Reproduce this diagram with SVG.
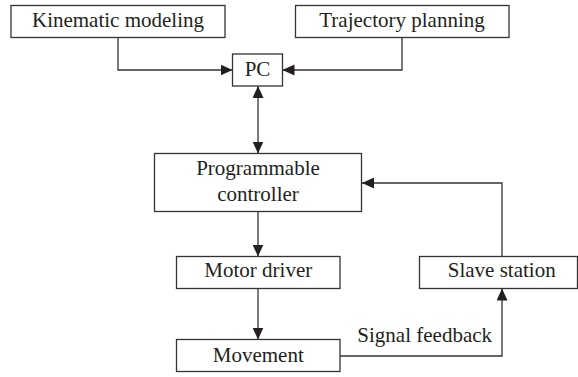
<svg xmlns="http://www.w3.org/2000/svg" width="578" height="377" viewBox="0 0 578 377">
<style>
.box{fill:#fff;stroke:#333;stroke-width:1.3}
.lbl{font-family:'Liberation Serif','DejaVu Serif',serif;font-size:21px;fill:#231f20;text-anchor:middle}
.con{fill:none;stroke:#333;stroke-width:1.3}
</style>
<defs>
<marker id="ah" markerUnits="userSpaceOnUse" markerWidth="13" markerHeight="12" refX="12" refY="5.5" orient="auto-start-reverse">
<path d="M0,0 L12,5.5 L0,11 z" fill="#231f20"/>
</marker>
</defs>
<rect width="578" height="377" fill="#fff"/>
<g id="connectors">
<path class="con" d="M118,38 V70 H232.5" marker-end="url(#ah)"/>
<path class="con" d="M402,38 V70 H282.5" marker-end="url(#ah)"/>
<path class="con" d="M258,86 V153.5" marker-start="url(#ah)" marker-end="url(#ah)"/>
<path class="con" d="M258,211.5 V256.5" marker-end="url(#ah)"/>
<path class="con" d="M258,288.5 V339.5" marker-end="url(#ah)"/>
<path class="con" d="M340,356 H502 V288.5" marker-end="url(#ah)"/>
<path class="con" d="M502,256.5 V183 H362" marker-end="url(#ah)"/>
<text class="lbl" x="424.7" y="341.7" font-family="Liberation Serif, serif">Signal feedback</text>
</g>
<g id="kinematic">
<rect class="box" x="11" y="5.5" width="214" height="32"/>
<text class="lbl" x="118" y="27" font-family="Liberation Serif, serif">Kinematic modeling</text>
</g>
<g id="trajectory">
<rect class="box" x="295.5" y="5.5" width="213.5" height="32"/>
<text class="lbl" x="402" y="27" font-family="Liberation Serif, serif">Trajectory planning</text>
</g>
<g id="pc">
<rect class="box" x="232.5" y="54" width="50" height="32"/>
<text class="lbl" x="257.5" y="76" font-family="Liberation Serif, serif">PC</text>
</g>
<g id="controller">
<rect class="box" x="154.5" y="153.5" width="207" height="58"/>
<text class="lbl" x="258" y="175" font-family="Liberation Serif, serif">Programmable</text>
<text class="lbl" x="258" y="200.5" font-family="Liberation Serif, serif">controller</text>
</g>
<g id="motor">
<rect class="box" x="176.5" y="256.5" width="163.5" height="32"/>
<text class="lbl" x="258.3" y="277" font-family="Liberation Serif, serif">Motor driver</text>
</g>
<g id="slave">
<rect class="box" x="419.5" y="256.5" width="158" height="32"/>
<text class="lbl" x="501.7" y="277" font-family="Liberation Serif, serif">Slave station</text>
</g>
<g id="movement">
<rect class="box" x="176.5" y="339.5" width="163.5" height="32"/>
<text class="lbl" x="258.3" y="362" font-family="Liberation Serif, serif">Movement</text>
</g>
</svg>
